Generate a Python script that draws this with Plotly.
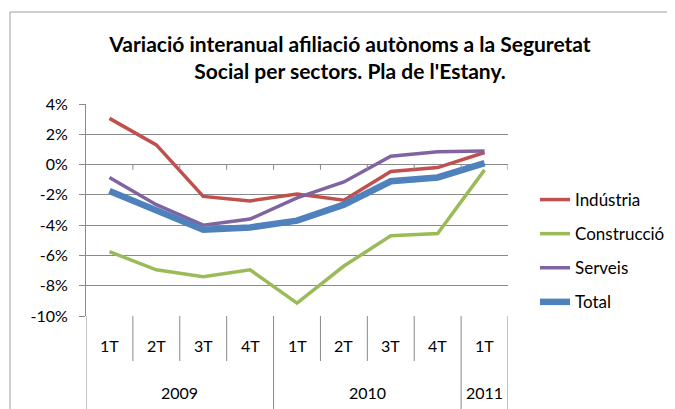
import plotly.graph_objects as go

quarters = ["1T", "2T", "3T", "4T", "1T", "2T", "3T", "4T", "1T"]
years = ["2009", "2009", "2009", "2009", "2010", "2010", "2010", "2010", "2011"]

industria = [3.05, 1.3, -2.1, -2.4, -1.95, -2.35, -0.45, -0.2, 0.8]
construccio = [-5.75, -6.95, -7.4, -6.95, -9.15, -6.7, -4.7, -4.55, -0.35]
serveis = [-0.85, -2.65, -4.0, -3.6, -2.2, -1.15, 0.55, 0.85, 0.9]
total = [-1.75, -3.0, -4.3, -4.15, -3.7, -2.65, -1.1, -0.85, 0.1]

y_ticks = [4, 2, 0, -2, -4, -6, -8, -10]
y_ticktext = [f"{v}%" for v in y_ticks]

title_lines = ["Variació interanual afiliació autònoms a la Seguretat",
               "Social per sectors. Pla de l'Estany."]

FONT = "Lato, 'Open Sans', sans-serif"
GRID = "#8a8a8a"

x = list(range(len(quarters)))

series = [
    ("Indústria", industria, "#C0504D", 3.5),
    ("Construcció", construccio, "#9BBB59", 3.5),
    ("Serveis", serveis, "#8064A2", 3.5),
    ("Total", total, "#4F81BD", 6.5),
]

fig = go.Figure()
for name, vals, col, w in series:
    fig.add_trace(go.Scatter(
        x=x, y=vals, mode="lines", name=name, legendgroup=name,
        line=dict(color=col, width=w), hoverinfo="skip"))

OFF = 8  # browser body margin
W, H = 675 - OFF, 409 - OFF
L, R, T, B = 86 - OFF, 167, 104 - OFF, 93
pw = W - L - R
ph = H - T - B

def py(pix):
    return 1 - (pix - 104) / ph

def px(pix):
    return (pix - 86) / pw

shapes = []
n = len(quarters)
for i in range(n + 1):
    b = i - 0.5
    long_line = i == 0 or i == n or years[i] != years[i - 1]
    shapes.append(dict(type="line", xref="x", yref="paper", x0=b, x1=b,
                       y0=0, y1=py(361) if not long_line else py(430),
                       line=dict(color=GRID, width=1)))
    if i > 0:
        shapes.append(dict(type="line", xref="x", yref="y", x0=b, x1=b,
                           y0=0, y1=-0.35, line=dict(color=GRID, width=1)))
shapes.append(dict(type="rect", xref="paper", yref="paper",
                   x0=px(10), x1=1.6, y0=py(12), y1=py(460),
                   line=dict(color="#a0a0a0", width=1), fillcolor="rgba(0,0,0,0)",
                   layer="below"))

annotations = []
for i, q in enumerate(quarters):
    annotations.append(dict(x=i, y=py(345), xref="x", yref="paper", text=q,
                            showarrow=False, font=dict(family=FONT, size=16, color="#000"),
                            yanchor="middle"))
groups = []
for i, yv in enumerate(years):
    if groups and groups[-1][0] == yv:
        groups[-1][2] = i
    else:
        groups.append([yv, i, i])
for yv, a, b in groups:
    annotations.append(dict(x=(a + b) / 2, y=py(392), xref="x", yref="paper", text=yv,
                            showarrow=False, font=dict(family=FONT, size=16, color="#000"),
                            yanchor="middle"))

fig.update_layout(
    width=W, height=H,
    margin=dict(l=L, r=R, t=T, b=B, pad=0, autoexpand=False),
    paper_bgcolor="white", plot_bgcolor="white",
    title=dict(text="<br>".join(title_lines), x=(350 - OFF) / W, xanchor="center",
               y=1 - (52 - OFF) / H, yanchor="middle",
               font=dict(family=FONT, size=21, color="#000", weight="bold")),
    xaxis=dict(range=[-0.5, n - 0.5], showgrid=False, zeroline=False,
               showticklabels=False, ticks="", showline=False, fixedrange=True),
    yaxis=dict(range=[-10, 4], tickvals=y_ticks, ticktext=y_ticktext,
               showgrid=True, gridcolor=GRID, gridwidth=1,
               zeroline=False, showline=True, linecolor=GRID, linewidth=1,
               ticks="outside", ticklen=6, tickcolor=GRID,
               ticklabelstandoff=8,
               tickfont=dict(family=FONT, size=16, color="#000")),
    legend=dict(x=px(535), xanchor="left",
                y=py(182), yanchor="top", tracegroupgap=9,
                font=dict(family=FONT, size=17, color="#000"),
                bgcolor="rgba(0,0,0,0)", traceorder="grouped"),
    shapes=shapes, annotations=annotations,
    showlegend=True,
)

fig.write_html("out.html")
